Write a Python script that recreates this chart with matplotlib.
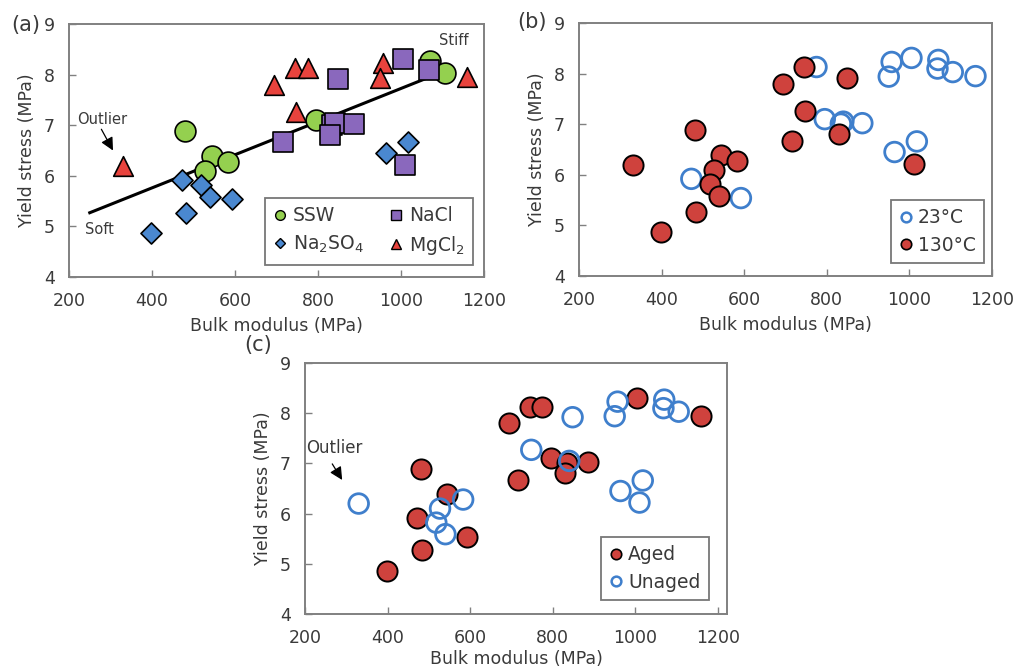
import matplotlib

matplotlib.use("Agg")
import matplotlib.pyplot as plt
from matplotlib.lines import Line2D
import numpy as np


FIG_W, FIG_H, DPI = 1017, 670, 100

# bulk modulus (MPa) and yield stress (MPa) per brine
SSW_X = [480, 545, 527, 583, 795, 1070, 1105]
SSW_Y = [6.89, 6.40, 6.10, 6.28, 7.10, 8.27, 8.03]
NACL_X = [1005, 848, 1068, 716, 834, 840, 830, 886, 1010]
NACL_Y = [8.31, 7.92, 8.10, 6.66, 7.01, 7.05, 6.80, 7.02, 6.22]
NA2SO4_X = [472, 518, 540, 592, 483, 398, 964, 1018]
NA2SO4_Y = [5.92, 5.82, 5.59, 5.54, 5.27, 4.86, 6.45, 6.66]
MGCL2_X = [330, 695, 745, 775, 748, 957, 950, 1160]
MGCL2_Y = [6.20, 7.80, 8.13, 8.13, 7.27, 8.23, 7.94, 7.95]

# 1 = tested at 130 C (panel b)
SSW_HOT = [1, 1, 1, 1, 0, 0, 0]
NACL_HOT = [0, 1, 0, 1, 0, 0, 1, 0, 1]
NA2SO4_HOT = [0, 1, 1, 0, 1, 1, 0, 0]
MGCL2_HOT = [1, 1, 1, 0, 1, 0, 0, 0]

# 1 = aged sample (panel c)
SSW_AGED = [1, 1, 0, 0, 1, 0, 0]
NACL_AGED = [1, 0, 0, 1, 1, 0, 1, 1, 0]
NA2SO4_AGED = [1, 0, 0, 1, 1, 1, 0, 0]
MGCL2_AGED = [0, 1, 1, 1, 0, 0, 0, 1]

# soft -> stiff trend line in panel (a)
FIT_X = [250, 1105]
FIT_Y = [5.27, 8.07]

X_TICKS = [200, 400, 600, 800, 1000, 1200]
Y_TICKS = [4, 5, 6, 7, 8, 9]

SPINE_COLOR = "#808080"
TEXT_COLOR = "#3a3a3a"
RED_FILL = "#cf423d"
BLUE_RING = "#3f7fcc"


def _rect(left, top, right, bottom):
    return [left / FIG_W, 1 - bottom / FIG_H, (right - left) / FIG_W, (bottom - top) / FIG_H]


def _style_axis(ax, xmax=1200, xlabelpad=5):
    ax.set_xlim(200, xmax)
    ax.set_ylim(4, 9)
    ax.set_xticks(X_TICKS)
    ax.set_yticks(Y_TICKS)
    ax.tick_params(direction="in", length=5, width=1.0, color=SPINE_COLOR, labelsize=12.5,
                   labelcolor=TEXT_COLOR)
    ax.tick_params(axis="x", pad=11)
    ax.tick_params(axis="y", pad=10)
    for spine in ax.spines.values():
        spine.set_color(SPINE_COLOR)
        spine.set_linewidth(1.4)
    ax.set_xlabel("Bulk modulus (MPa)", fontsize=12.5, color=TEXT_COLOR, labelpad=xlabelpad)
    ax.set_ylabel("Yield stress (MPa)", fontsize=12.5, color=TEXT_COLOR, labelpad=6)


def _legend(ax, handles, labels, anchor, ncol=1):
    leg = ax.legend(handles, labels, loc="lower right", bbox_to_anchor=anchor, ncol=ncol,
                    fontsize=13.5, frameon=True, fancybox=False, borderaxespad=0,
                    handlelength=0.7, handletextpad=0.3, columnspacing=1.4,
                    labelspacing=0.45, borderpad=0.45)
    leg.get_frame().set_edgecolor("#555555")
    leg.get_frame().set_linewidth(1.3)
    for text in leg.get_texts():
        text.set_color(TEXT_COLOR)
    return leg


def _outlier_arrow(ax, tip, tail):
    ax.annotate("", xy=tip, xytext=tail,
                arrowprops=dict(arrowstyle="-|>,head_length=0.7,head_width=0.35",
                                color="black", lw=0.9, mutation_scale=11,
                                shrinkA=0, shrinkB=0))


def _split(xs, ys, flags):
    xs, ys, flags = np.asarray(xs), np.asarray(ys), np.asarray(flags, dtype=bool)
    return (xs[flags], ys[flags]), (xs[~flags], ys[~flags])


def _panel_a(fig):
    ax = fig.add_axes(_rect(69, 24, 484, 277))
    ax.plot(FIT_X, FIT_Y, color="black", linewidth=2.2, zorder=2)
    ax.scatter(SSW_X, SSW_Y, s=225, marker="o", facecolor="#94d04f", edgecolor="black",
               linewidth=1.2, zorder=3)
    ax.scatter(NACL_X, NACL_Y, s=205, marker="s", facecolor="#8a68bd", edgecolor="black",
               linewidth=1.2, zorder=4)
    ax.scatter(NA2SO4_X, NA2SO4_Y, s=115, marker="D", facecolor="#4a88d0", edgecolor="black",
               linewidth=1.2, zorder=5)
    ax.scatter(MGCL2_X, MGCL2_Y, s=200, marker="^", facecolor="#e8433d", edgecolor="black",
               linewidth=1.2, zorder=6)
    _style_axis(ax)

    ax.text(279, 7.12, "Outlier", fontsize=10.5, color=TEXT_COLOR, ha="center", va="center")
    _outlier_arrow(ax, (306, 6.5), (278, 6.92))
    ax.text(274, 4.93, "Soft", fontsize=10.5, color=TEXT_COLOR, ha="center", va="center")
    ax.text(1127, 8.68, "Stiff", fontsize=10.5, color=TEXT_COLOR, ha="center", va="center")

    kw = dict(linestyle="none", markeredgecolor="black", markeredgewidth=1.0)
    handles = [
        Line2D([], [], marker="o", markersize=7, markerfacecolor="#94d04f", **kw),
        Line2D([], [], marker="D", markersize=5.5, markerfacecolor="#4a88d0", **kw),
        Line2D([], [], marker="s", markersize=6.5, markerfacecolor="#8a68bd", **kw),
        Line2D([], [], marker="^", markersize=7, markerfacecolor="#e8433d", **kw),
    ]
    labels = ["SSW", "Na$_2$SO$_4$", "NaCl", "MgCl$_2$"]
    _legend(ax, handles, labels, (0.973, 0.047), ncol=2)
    fig.text(11 / FIG_W, 1 - 25 / FIG_H, "(a)", fontsize=15, color=TEXT_COLOR, va="center")


def _group(flag_lists):
    sets = [(SSW_X, SSW_Y), (NACL_X, NACL_Y), (NA2SO4_X, NA2SO4_Y), (MGCL2_X, MGCL2_Y)]
    on_x, on_y, off_x, off_y = [], [], [], []
    for (xs, ys), flags in zip(sets, flag_lists):
        (ax_, ay_), (bx_, by_) = _split(xs, ys, flags)
        on_x.extend(ax_)
        on_y.extend(ay_)
        off_x.extend(bx_)
        off_y.extend(by_)
    return (on_x, on_y), (off_x, off_y)


def _filled(ax, xs, ys, zorder):
    ax.scatter(xs, ys, s=210, marker="o", facecolor=RED_FILL, edgecolor="black",
               linewidth=1.4, zorder=zorder)


def _ring(ax, xs, ys, zorder):
    ax.scatter(xs, ys, s=200, marker="o", facecolor="none", edgecolor=BLUE_RING,
               linewidth=2.0, zorder=zorder)


def _legend_handles():
    filled = Line2D([], [], linestyle="none", marker="o", markersize=7.5,
                    markerfacecolor=RED_FILL, markeredgecolor="black", markeredgewidth=1.2)
    ring = Line2D([], [], linestyle="none", marker="o", markersize=7,
                  markerfacecolor="none", markeredgecolor=BLUE_RING, markeredgewidth=1.8)
    return filled, ring


def _panel_b(fig):
    ax = fig.add_axes(_rect(579, 23, 992, 276))
    (hot_x, hot_y), (cold_x, cold_y) = _group([SSW_HOT, NACL_HOT, NA2SO4_HOT, MGCL2_HOT])
    _ring(ax, cold_x, cold_y, 3)
    _filled(ax, hot_x, hot_y, 4)
    _style_axis(ax)
    filled, ring = _legend_handles()
    _legend(ax, [ring, filled], ["23°C", "130°C"], (0.981, 0.051))
    fig.text(517 / FIG_W, 1 - 22 / FIG_H, "(b)", fontsize=15, color=TEXT_COLOR, va="center")


def _panel_c(fig):
    ax = fig.add_axes(_rect(305, 363, 727, 614))
    (aged_x, aged_y), (new_x, new_y) = _group([SSW_AGED, NACL_AGED, NA2SO4_AGED, MGCL2_AGED])
    _filled(ax, aged_x, aged_y, 3)
    _ring(ax, new_x, new_y, 4)
    _style_axis(ax, xmax=1222, xlabelpad=2)
    ax.text(272, 7.31, "Outlier", fontsize=12, color=TEXT_COLOR, ha="center", va="center")
    _outlier_arrow(ax, (290, 6.67), (266, 6.99))
    filled, ring = _legend_handles()
    _legend(ax, [filled, ring], ["Aged", "Unaged"], (0.957, 0.056))
    fig.text(244 / FIG_W, 1 - 345 / FIG_H, "(c)", fontsize=15, color=TEXT_COLOR, va="center")


def main():
    plt.rcParams.update({"font.family": ["DejaVu Sans"], "mathtext.fontset": "dejavusans"})
    fig = plt.figure(figsize=(FIG_W / DPI, FIG_H / DPI), dpi=DPI, facecolor="white")
    _panel_a(fig)
    _panel_b(fig)
    _panel_c(fig)
    fig.savefig("out.png", dpi=DPI, facecolor="white")
    plt.close(fig)


if __name__ == "__main__":
    main()
